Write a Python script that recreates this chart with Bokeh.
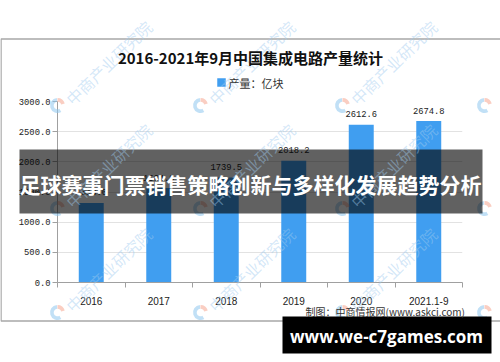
import math
from bokeh.plotting import figure
from bokeh.models import (Range1d, FixedTicker, NumeralTickFormatter, ColumnDataSource,
                          LabelSet, Label, GridBox)
from bokeh.core.properties import value
from bokeh.embed import file_html
from bokeh.resources import INLINE

# ---------------- data ----------------
categories = ["2016", "2017", "2018", "2019", "2020", "2021.1-9"]
output = [1318.0, 1564.9, 1739.5, 2018.2, 2612.6, 2674.8]
y_ticks = [0, 500, 1000, 1500, 2000, 2500, 3000]

title_text = "2016-2021年9月中国集成电路产量统计"
legend_text = "产量：亿块"
banner_text = "足球赛事门票销售策略创新与多样化发展趋势分析"
footer_text = "www.we-c7games.com"
source_text = "制图：中商情报网(www.askci.com)"
watermark_text = "中商产业研究院"

W, H = 500, 362
BAR = "#409ef0"
CJK = "Noto Sans CJK SC"
MONO = "Liberation Mono"
SANS = "Liberation Sans"

# ---------------- chart ----------------
xs = [i + 0.5 for i in range(len(categories))]
src = ColumnDataSource(dict(x=xs, top=output, label=[f"{v:.1f}" for v in output]))

p = figure(width=W, height=H, output_backend="svg", toolbar_location=None,
           x_range=Range1d(0, len(categories)), y_range=Range1d(0, 3000),
           min_border_left=57, min_border_right=38, min_border_top=101, min_border_bottom=80,
           frame_align=False)
p.outline_line_color = None
p.background_fill_color = "white"
p.border_fill_color = "white"

xa = p.xaxis[0]
xa.ticker = FixedTicker(ticks=xs, minor_ticks=list(range(len(categories) + 1)))
xa.major_label_overrides = {x: c for x, c in zip(xs, categories)}
xa.major_tick_line_color = None
xa.major_tick_out = 0
xa.major_tick_in = 0
xa.minor_tick_out = 5
xa.minor_tick_in = 0
xa.minor_tick_line_color = "#a0a0a0"
xa.axis_line_color = "#a0a0a0"
xa.major_label_standoff = 9
xa.major_label_text_font = SANS
xa.major_label_text_font_size = "10px"
xa.major_label_text_color = "#222222"

ya = p.yaxis[0]
ya.ticker = FixedTicker(ticks=y_ticks)
ya.formatter = NumeralTickFormatter(format="0.0")
ya.major_tick_out = 5
ya.major_tick_in = 0
ya.minor_tick_line_color = None
ya.major_tick_line_color = "#a0a0a0"
ya.axis_line_color = "#a0a0a0"
ya.major_label_standoff = 2
ya.major_label_text_font = MONO
ya.major_label_text_font_size = "8.8px"
ya.major_label_text_color = "#222222"

p.xgrid.visible = False
p.ygrid.grid_line_color = "#e2e2e2"

p.vbar(x="x", top="top", width=0.37, source=src, fill_color=BAR, line_color=None)
p.add_layout(LabelSet(x="x", y="top", text="label", source=src, text_align="center",
                      text_baseline="bottom", y_offset=7.5, text_font=value(MONO),
                      text_font_size="8.8px", text_color="#222222"))

# ---------------- overlay (page pixel coordinates, y downwards) ----------------
o = figure(width=W, height=H, output_backend="svg", toolbar_location=None,
           x_range=Range1d(0, W), y_range=Range1d(H, 0), min_border=0,
           x_axis_location=None, y_axis_location=None, frame_align=False)
o.grid.visible = False
o.outline_line_color = None
o.background_fill_alpha = 0
o.border_fill_alpha = 0

# watermarks (logo marks on a regular grid, text where it fits inside the page)
wm_cols = [-85, 57, 200, 342, 484]
wm_rows = [105, 208, 312]
ang = math.radians(44)
lx = [c for r in wm_rows for c in wm_cols]
ly = [r for r in wm_rows for c in wm_cols]
o.annular_wedge(x=lx, y=ly, inner_radius=3.8, outer_radius=7.5, start_angle=math.radians(95),
                end_angle=math.radians(300), fill_color="#8ec6ef", fill_alpha=0.55, line_color=None)
o.annular_wedge(x=lx, y=ly, inner_radius=3.8, outer_radius=7.5, start_angle=math.radians(15),
                end_angle=math.radians(90), fill_color="#f6a58f", fill_alpha=0.55, line_color=None)
for wx, wy in zip(lx, ly):
    if wx < 0 or wx > 400:
        continue
    o.add_layout(Label(x=wx + 11, y=wy - 4, text=watermark_text, angle=ang, text_align="left",
                       text_baseline="middle", text_font=CJK, text_font_size="16px",
                       text_color="#9fcbef", text_alpha=0.45))

# outer chart frame
o.quad(left=0.5, right=505, top=38.5, bottom=320.5, fill_alpha=0, line_color="#a8a8a8",
       line_width=1.5)

# title
o.add_layout(Label(x=250, y=57, text=title_text, text_align="center", text_baseline="middle",
                   text_font=CJK, text_font_style="bold", text_font_size="15px",
                   text_color="#111111"))

# legend
o.rect(x=221, y=82, width=8.5, height=8.5, fill_color=BAR, line_color=None)
o.add_layout(Label(x=228, y=82, text=legend_text, text_align="left", text_baseline="middle",
                   text_font=CJK, text_font_size="11px", text_color="#333333"))

# source note
o.add_layout(Label(x=305, y=311, text=source_text, text_align="left", text_baseline="middle",
                   text_font=CJK, text_font_size="10px", text_color="#333333"))

# banner overlay
o.quad(left=19, right=482, top=149, bottom=213, fill_color="black", fill_alpha=0.62,
       line_color=None)
o.add_layout(Label(x=250, y=183, text=banner_text, text_align="center", text_baseline="middle",
                   text_font=CJK, text_font_style="bold", text_font_size="21px",
                   text_color="white"))

# footer
o.quad(left=282, right=491, top=316, bottom=353, fill_color="black", line_color=None)
o.add_layout(Label(x=386, y=336, text=footer_text, text_align="center", text_baseline="middle",
                   text_font="Open Sans", text_font_style="bold", text_font_size="17px",
                   text_color="white"))

layout = GridBox(children=[(p, 0, 0), (o, 0, 0)])
open("out.html", "w").write(file_html(layout, INLINE))
